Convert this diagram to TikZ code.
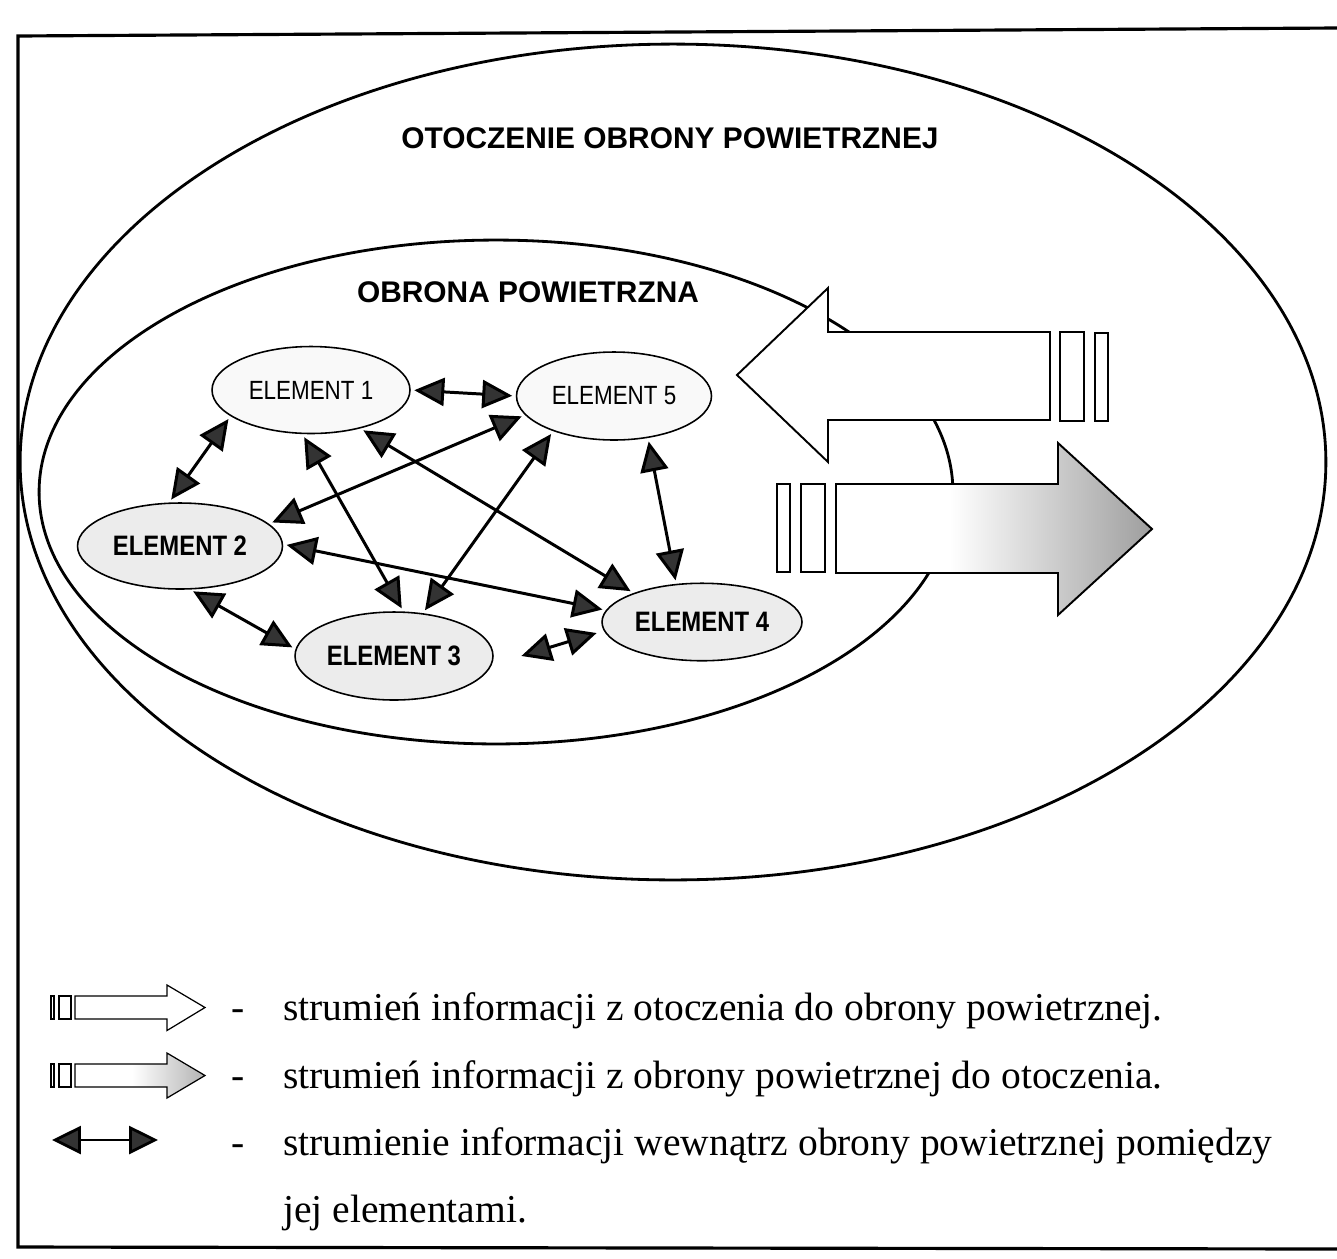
\documentclass[tikz,border=0pt]{standalone}
\usepackage{fontspec}
\setmainfont{Liberation Serif}
\newfontfamily\labelsans{Liberation Sans}
\newfontfamily\elemsans[FakeStretch=0.85]{Liberation Sans}
\usetikzlibrary{arrows.meta,shapes.geometric}
% white shaft turning grey towards the head
\pgfdeclarehorizontalshading{outshade}{100bp}{color(0bp)=(white); color(43bp)=(white); color(75bp)=(black!38); color(100bp)=(black!38)}
\pgfdeclarehorizontalshading{outshadesmall}{100bp}{color(0bp)=(white); color(47bp)=(white); color(75bp)=(black!30); color(100bp)=(black!30)}
\begin{document}
\begin{tikzpicture}[x=0.02cm,y=-0.02cm,
  frameline/.style={line width=1.8pt, line cap=round},
  realm/.style={draw, line width=1.6pt},
  elem/.style={ellipse, draw, line width=0.9pt, inner sep=0pt,
    font=\elemsans\fontsize{15}{18}\selectfont},
  elembold/.style={elem, font=\elemsans\bfseries\fontsize{16}{19}\selectfont},
  title/.style={inner sep=0pt, font=\labelsans\bfseries\fontsize{17}{20}\selectfont},
  flow/.style={line width=1.7pt,
    {Triangle[length=0.6cm,width=0.56cm,fill=black!80]}-{Triangle[length=0.6cm,width=0.56cm,fill=black!80]},
    shorten <=2pt, shorten >=2pt},
  legflow/.style={line width=1.6pt,
    {Triangle[length=0.58cm,width=0.56cm,fill=black!80]}-{Triangle[length=0.58cm,width=0.56cm,fill=black!80]}},
  bigarrow/.style={draw, line width=1.1pt, line join=miter},
  smallarrow/.style={draw, line width=0.7pt, line join=miter},
  legtext/.style={anchor=base west, inner sep=0pt, font=\fontsize{22.5}{27}\selectfont},
  legdash/.style={anchor=base, inner sep=0pt, font=\fontsize{22.5}{27}\selectfont}
]
\useasboundingbox (0,0) rectangle (1337,1258);
\fill[white] (0,0) rectangle (1337,1258);

% frame
\draw[frameline] (1337,28) -- (18,36) -- (18,1247) -- (1337,1249);

% environment and air defence
\draw[realm] (673,462) ellipse [x radius=13.06cm, y radius=8.36cm];
\draw[realm] (496,492) ellipse [x radius=9.14cm, y radius=5.04cm];

\node[title] (outerlbl) at (670,138) {OTOCZENIE OBRONY POWIETRZNEJ};
\node[title] (innerlbl) at (528,292) {OBRONA POWIETRZNA};

% elements
\node[elem, fill=gray!5, minimum width=3.96cm, minimum height=1.74cm] (E1) at (311,390) {ELEMENT 1};
\node[elem, fill=gray!5, minimum width=3.9cm, minimum height=1.76cm] (E5) at (614,396) {ELEMENT 5};
\node[elembold, fill=gray!15, minimum width=4.1cm, minimum height=1.72cm] (E2) at (180,546) {ELEMENT 2};
\node[elembold, fill=gray!15, minimum width=3.96cm, minimum height=1.76cm] (E3) at (394,656) {ELEMENT 3};
\node[elembold, fill=gray!15, minimum width=4.0cm, minimum height=1.55cm] (E4) at (702,622) {ELEMENT 4};

% information flows between elements
\draw[flow] (E1.east) -- (E5.west);
\draw[flow] (E1.198) -- (E2.104);
\draw[flow] (E5.192) -- (E2.14);
\draw[flow] (E1.259) -- (E3.78);
\draw[flow] (E5.210) -- (E3.56);
\draw[flow] (E1.322) -- (E4.157);
\draw[flow] (E5.309) -- (E4.124);
\draw[flow] (E2.1) -- (E4.173);
\draw[flow] (E2.283) -- (E3.176);
\coordinate (f34a) at (518,657);
\coordinate (f34b) at (600,632);
\draw[flow] (f34a) -- (f34b);

% flow from the environment into air defence
\path[bigarrow, fill=white] (737,375) -- (828,288) -- (828,332) -- (1050,332)
  -- (1050,420) -- (828,420) -- (828,462) -- cycle;
\path[bigarrow, fill=white] (1060,332) rectangle (1084,421);
\path[bigarrow, fill=white] (1095,333) rectangle (1108,421);

% flow from air defence to the environment
\path[bigarrow, shading=outshade] (836,484) -- (1058,484) -- (1058,443) -- (1152,529)
  -- (1058,615) -- (1058,573) -- (836,573) -- cycle;
\path[bigarrow, fill=white] (777,484) rectangle (790,572);
\path[bigarrow, fill=white] (801,484) rectangle (825,572);

% legend
\path[smallarrow, fill=white] (51,996) rectangle (54,1019);
\path[smallarrow, fill=white] (59,996) rectangle (71,1019);
\path[smallarrow, fill=white] (75,996) -- (167,996) -- (167,985) -- (205,1007.5)
  -- (167,1030.5) -- (167,1019) -- (75,1019) -- cycle;
\node[legdash] (d1) at (238,1020) {-};
\node[legtext] (t1) at (283,1020) {strumień informacji z otoczenia do obrony powietrznej.};

\path[smallarrow, fill=white] (51,1064) rectangle (54,1087);
\path[smallarrow, fill=white] (59,1064) rectangle (71,1087);
\path[smallarrow, shading=outshadesmall] (75,1064) -- (167,1064) -- (167,1053) -- (205,1075.5)
  -- (167,1098) -- (167,1087) -- (75,1087) -- cycle;
\node[legdash] (d2) at (238,1088) {-};
\node[legtext] (t2) at (283,1088) {strumień informacji z obrony powietrznej do otoczenia.};

\coordinate (lgA) at (52,1140);
\coordinate (lgB) at (158,1140);
\draw[legflow] (lgA) -- (lgB);
\node[legdash] (d3) at (238,1155) {-};
\node[legtext] (t3) at (283,1155) {strumienie informacji wewnątrz obrony powietrznej pomiędzy};
\node[legtext] (t4) at (283,1222) {jej elementami.};
\end{tikzpicture}
\end{document}
